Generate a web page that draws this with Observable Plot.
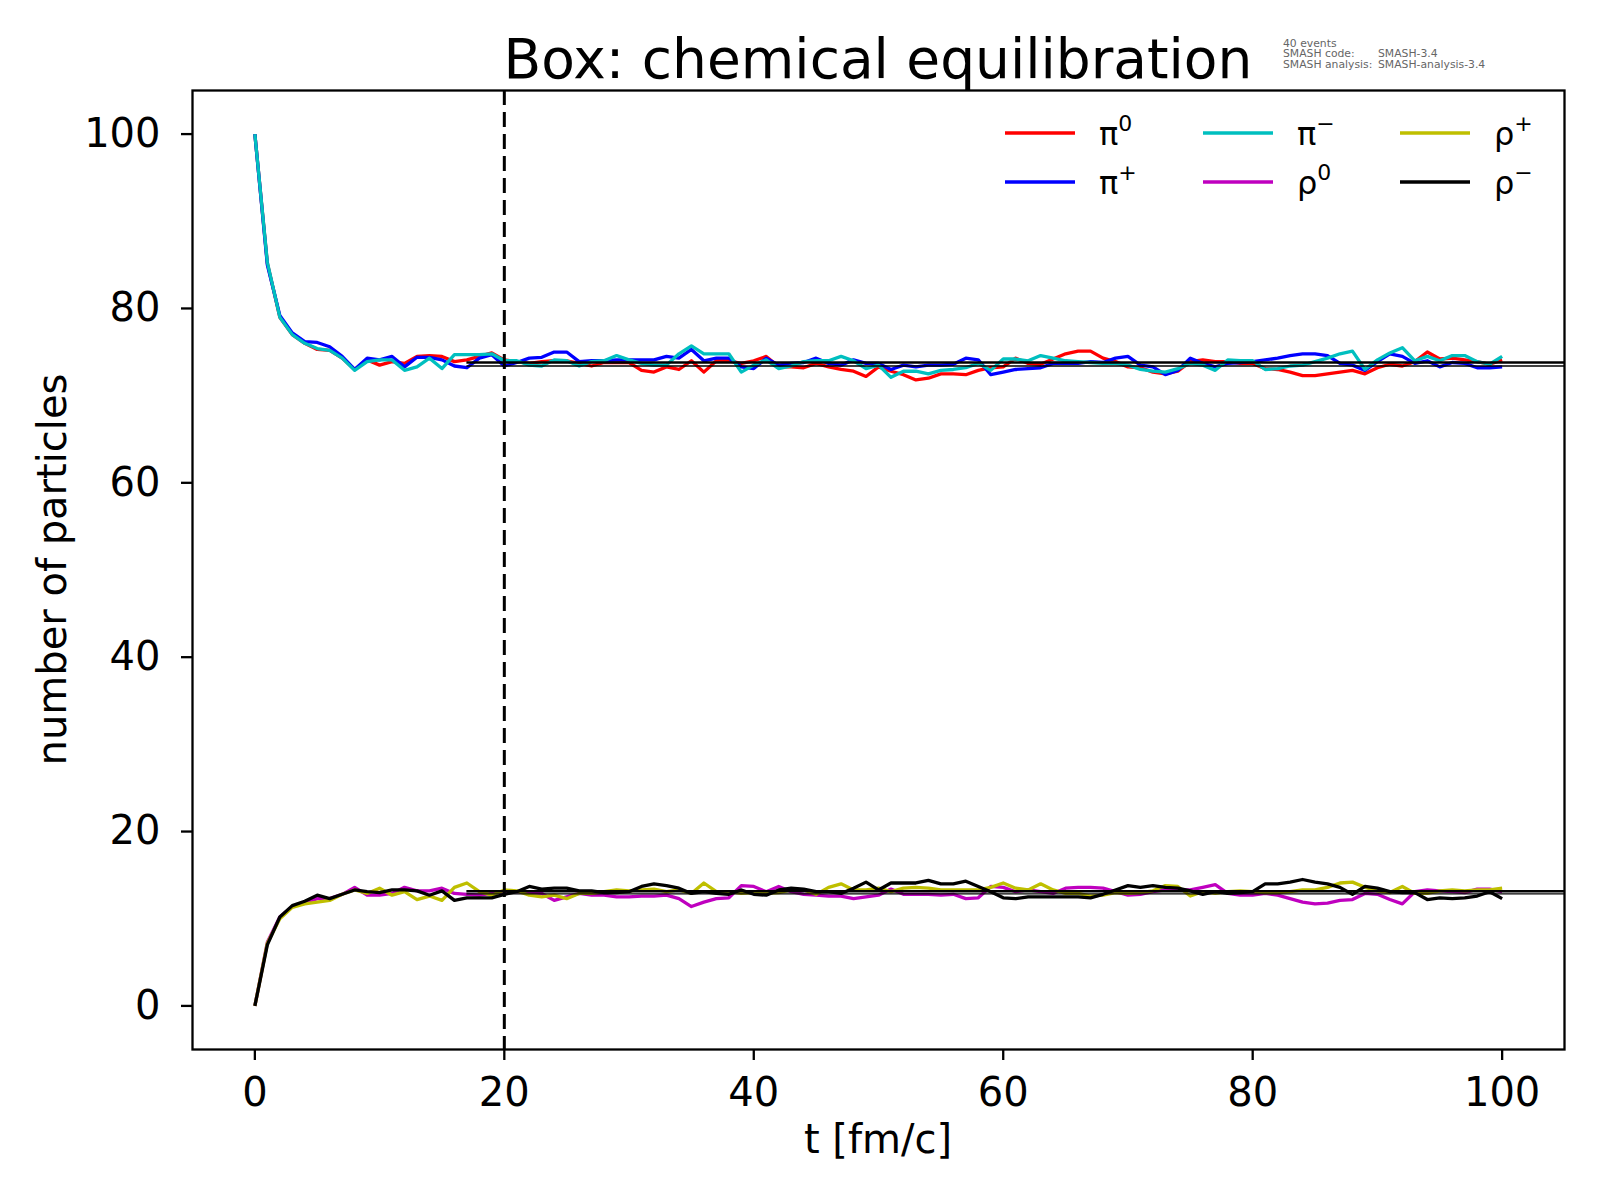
<!DOCTYPE html>
<html>
<head>
<meta charset="utf-8">
<script src="https://cdn.jsdelivr.net/npm/d3@7"></script>
<script src="https://cdn.jsdelivr.net/npm/@observablehq/plot@0.6"></script>
<style>
  html, body { margin: 0; padding: 0; background: white; }
  #chart svg { display: block; }
</style>
</head>
<body>
<div id="chart"></div>
<script>
// ---- data ----
const times = d3.range(0, 101);
const xTicks = [0, 20, 40, 60, 80, 100];
const yTicks = [0, 20, 40, 60, 80, 100];

const pi0 = [100,85.2,79.0,77.0,76.0,75.3,75.2,74.3,73.0,74.1,73.5,73.9,73.7,74.5,74.6,74.5,73.9,74.1,74.5,74.9,
  74.1,73.9,73.7,73.9,74.0,74.0,73.7,73.4,73.8,73.8,73.8,72.9,72.7,73.3,73.0,74.0,72.7,74.0,74.0,73.7,
  74.0,74.5,73.3,73.3,73.2,73.7,73.3,73.0,72.8,72.2,73.3,72.8,72.4,71.8,72.0,72.5,72.5,72.4,72.9,73.2,
  73.3,74.3,73.7,73.6,74.2,74.8,75.1,75.1,74.3,73.9,73.3,73.2,72.7,72.5,72.8,73.9,74.1,73.9,73.9,73.7,
  73.7,73.1,73.0,72.7,72.3,72.3,72.5,72.7,72.9,72.5,73.2,73.6,73.4,73.9,75.0,74.2,74.3,74.1,73.9,73.6,74.1];
const piPlus = [100,85.0,79.2,77.2,76.2,76.1,75.6,74.5,73.0,74.3,74.1,74.5,73.3,74.4,74.4,74.1,73.4,73.2,74.3,74.7,
  73.4,73.8,74.3,74.4,75.0,75.0,73.9,74.0,74.0,74.1,74.1,74.1,74.1,74.5,74.3,75.3,74.0,74.3,74.3,73.3,
  73.1,74.3,73.5,73.7,73.8,74.3,73.7,73.5,74.1,73.7,73.7,73.0,73.5,73.3,73.5,73.5,73.6,74.3,74.1,72.4,
  72.7,73.0,73.1,73.2,73.7,73.7,73.7,73.9,73.8,74.3,74.5,73.5,73.3,72.4,72.9,74.3,73.7,73.3,73.7,73.8,
  73.9,74.1,74.3,74.6,74.8,74.8,74.6,73.7,73.5,72.9,73.9,74.8,74.5,73.7,74.0,73.3,73.8,73.7,73.2,73.2,73.3];
const piMinus = [100,85.3,79.0,77.0,76.0,75.4,75.2,74.3,72.9,73.9,74.1,74.1,72.9,73.3,74.3,73.1,74.7,74.7,74.7,74.8,
  74.0,74.0,73.5,73.4,74.1,74.0,73.4,73.9,74.0,74.6,74.1,73.7,73.5,73.5,74.8,75.7,74.8,74.8,74.8,72.7,
  73.5,74.1,73.1,73.4,73.9,74.0,74.0,74.5,74.0,73.1,73.5,72.1,72.8,72.8,72.5,72.9,73.0,73.2,73.7,72.9,
  74.2,74.2,74.0,74.6,74.3,74.0,73.9,73.8,73.7,73.7,73.5,73.0,72.8,72.7,73.1,73.7,73.5,72.9,74.1,74.0,
  74.0,73.0,73.1,73.4,73.5,73.9,74.3,74.8,75.1,73.0,74.1,74.9,75.5,74.0,74.5,74.0,74.6,74.6,73.9,73.6,74.5];
const rho0 = [0,7.3,10.2,11.4,11.8,12.3,12.3,12.8,13.6,12.7,12.7,12.9,13.6,13.2,13.2,13.5,12.9,12.8,12.7,12.9,
  13.1,13.1,13.0,12.9,12.1,12.5,12.9,12.7,12.7,12.5,12.5,12.6,12.6,12.7,12.3,11.4,11.9,12.3,12.4,13.8,
  13.7,13.1,13.7,13.1,12.8,12.7,12.6,12.6,12.3,12.5,12.7,13.4,12.8,12.8,12.8,12.7,12.8,12.3,12.4,13.7,
  13.6,13.1,13.3,13.1,12.9,13.5,13.6,13.6,13.5,13.1,12.7,12.8,13.1,13.3,13.3,13.3,13.6,13.9,12.9,12.7,
  12.7,12.9,12.7,12.3,11.9,11.7,11.8,12.1,12.2,12.9,12.8,12.2,11.7,13.1,13.3,13.2,13.1,13.0,13.4,13.4,13.1];
const rhoPlus = [0,7.2,10.0,11.3,11.7,11.9,12.1,12.8,13.3,12.9,13.5,12.7,13.1,12.2,12.6,12.1,13.6,14.1,13.1,12.7,
  13.3,13.2,12.7,12.5,12.7,12.3,12.9,12.9,13.1,13.3,13.2,13.3,13.4,13.1,13.3,12.9,14.1,13.1,13.1,12.9,
  13.0,12.9,13.0,13.3,13.3,12.8,13.6,14.0,13.3,13.3,13.5,13.1,13.5,13.6,13.5,13.3,13.3,13.3,13.3,13.6,
  14.1,13.5,13.3,14.0,13.3,12.9,12.9,12.6,12.7,13.0,12.9,13.0,13.2,13.8,13.7,12.6,13.1,12.9,13.1,13.2,
  13.1,13.0,13.0,13.1,13.3,13.3,13.6,14.1,14.2,13.6,13.2,13.0,13.7,12.9,12.9,13.2,13.3,13.2,13.3,13.3,13.5];
const rhoMinus = [0,7.0,10.2,11.5,12.0,12.7,12.3,12.8,13.3,13.1,13.0,13.3,13.3,13.2,12.7,13.2,12.1,12.4,12.4,12.4,
  12.8,13.1,13.7,13.4,13.5,13.5,13.2,13.2,13.0,13.0,13.1,13.7,14.0,13.8,13.5,12.9,13.1,12.9,12.8,13.3,
  12.8,12.7,13.3,13.5,13.4,13.1,13.1,12.9,13.5,14.2,13.3,14.1,14.1,14.1,14.4,14.0,14.0,14.3,13.7,13.1,
  12.4,12.3,12.5,12.5,12.5,12.5,12.5,12.4,12.8,13.3,13.8,13.6,13.8,13.6,13.5,13.2,12.8,13.1,12.9,13.0,
  13.1,14.0,14.0,14.2,14.5,14.2,14.0,13.6,12.8,13.7,13.5,13.1,13.0,13.0,12.2,12.4,12.3,12.4,12.6,13.1,12.3];

const seriesNames = ["π⁰", "π⁺", "π⁻", "ρ⁰", "ρ⁺", "ρ⁻"];
const seriesBase = ["π", "π", "π", "ρ", "ρ", "ρ"];
const seriesSup = ["0", "+", "−", "0", "+", "−"];
const seriesColors = ["#ff0000", "#0000ff", "#00bfbf", "#bf00bf", "#bfbf00", "#000000"];
const seriesValues = [pi0, piPlus, piMinus, rho0, rhoPlus, rhoMinus];

const eqThick = [73.8, 13.15];   // upper (thicker) equilibrium lines
const eqThin = [73.4, 12.85];    // lower (thinner) equilibrium lines
const eqStart = [17];            // where the equilibrium lines begin
const markerT = [20];            // dashed vertical line

const xDomain = [-5, 105];
const yDomain = [-5, 105];

const annotLabels = ["40 events", "SMASH code:", "SMASH analysis:"];
const annotValues = ["", "SMASH-3.4", "SMASH-analysis-3.4"];

// ---- chart ----
const FONT = "DejaVu Sans, sans-serif";
const lineMarks = seriesValues.map((vals, k) =>
  Plot.line(times.map((t, i) => ({t, v: vals[i]})), {
    x: "t", y: "v", stroke: seriesColors[k], strokeWidth: 3.3,
    strokeLinejoin: "round", strokeLinecap: "butt"
  })
);

const svg = Plot.plot({
  width: 1600,
  height: 1200,
  marginLeft: 192,
  marginRight: 36,
  marginTop: 90,
  marginBottom: 151,
  style: {fontFamily: FONT, background: "white", color: "black", overflow: "visible"},
  x: {domain: xDomain},
  y: {domain: yDomain},
  marks: [
    ...lineMarks,
    Plot.ruleY(eqThick, {x1: eqStart[0], x2: xDomain[1], stroke: "black", strokeWidth: 2.6}),
    Plot.ruleY(eqThin, {x1: eqStart[0], x2: xDomain[1], stroke: "black", strokeWidth: 1.3}),
    Plot.ruleX(markerT, {stroke: "black", strokeWidth: 3, strokeDasharray: "15,7"}),
    Plot.frame({stroke: "black", strokeWidth: 2.3}),
    Plot.axisX({ticks: xTicks, tickSize: 11, tickPadding: 17, fontSize: 40, label: null, strokeWidth: 2.3, tickFormat: d => String(d)}),
    Plot.axisY({ticks: yTicks, tickSize: 11, tickPadding: 21, fontSize: 40, label: null, strokeWidth: 2.3, tickFormat: d => String(d)})
  ]
});

const root = d3.select(svg);
const frameLeft = 192, frameRight = 1600 - 36, frameTop = 90, frameBottom = 1200 - 151;
const cx = (frameLeft + frameRight) / 2;

// title
root.append("text")
  .attr("x", cx).attr("y", 78)
  .attr("text-anchor", "middle")
  .attr("font-family", FONT).attr("font-size", 55).attr("fill", "black")
  .text("Box: chemical equilibration");

// axis labels
root.append("text")
  .attr("x", cx).attr("y", 1153)
  .attr("text-anchor", "middle")
  .attr("font-family", FONT).attr("font-size", 40).attr("fill", "black")
  .text("t [fm/c]");
root.append("text")
  .attr("transform", `translate(66,${(frameTop + frameBottom) / 2}) rotate(-90)`)
  .attr("text-anchor", "middle")
  .attr("font-family", FONT).attr("font-size", 40).attr("fill", "black")
  .text("number of particles");

// annotation
const ann = root.append("g").attr("font-family", FONT).attr("font-size", 10.8)
  .attr("fill", "#666").attr("text-anchor", "start");
annotLabels.forEach((lab, i) => {
  ann.append("text").attr("x", 1283).attr("y", 47 + i * 10.3).attr("text-anchor", "start").text(lab);
  if (annotValues[i]) ann.append("text").attr("x", 1378).attr("y", 47 + i * 10.3).attr("text-anchor", "start").text(annotValues[i]);
});

// legend
const legColX = [1005, 1203, 1400];
const legRowY = [133, 182];
const leg = root.append("g").attr("font-family", FONT).attr("fill", "black").attr("text-anchor", "start");
seriesNames.forEach((name, i) => {
  const col = Math.floor(i / 2), row = i % 2;
  const x0 = legColX[col], y0 = legRowY[row];
  leg.append("line")
    .attr("x1", x0).attr("x2", x0 + 70).attr("y1", y0).attr("y2", y0)
    .attr("stroke", seriesColors[i]).attr("stroke-width", 3.3);
  const t = leg.append("text").attr("x", x0 + 94).attr("y", y0 + 12)
    .attr("font-size", 32).attr("text-anchor", "start");
  t.append("tspan").text(seriesBase[i]);
  t.append("tspan").attr("font-size", 22).attr("dy", -14).text(seriesSup[i]);
});

document.getElementById("chart").appendChild(svg);
</script>
</body>
</html>
